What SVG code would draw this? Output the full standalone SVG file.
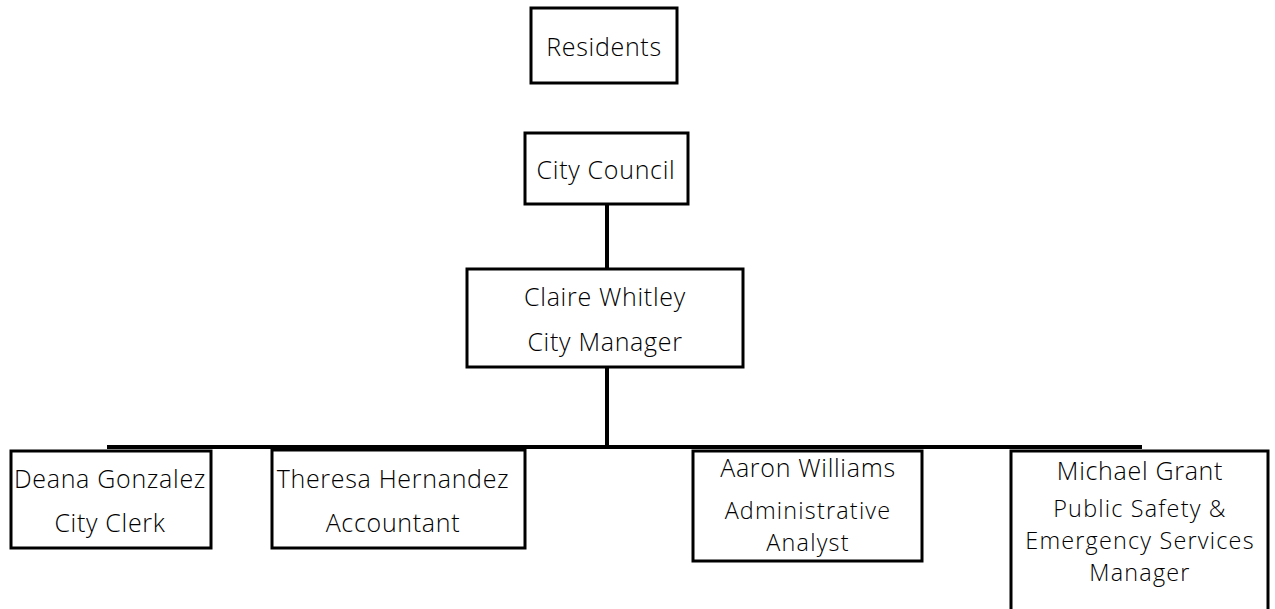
<svg xmlns="http://www.w3.org/2000/svg" width="1275" height="609" viewBox="0 0 1275 609">
<style>
.box{fill:#fff;stroke:#000;stroke-width:3}
.ln{stroke:#000;stroke-width:4;fill:none}
text{font-family:"Open Sans","Noto Sans",sans-serif;font-weight:300;font-size:25px;letter-spacing:0.7px;fill:#000;text-anchor:middle;dominant-baseline:central}
text.w{font-size:23.4px;letter-spacing:1.2px}
</style>
<rect width="1275" height="609" fill="#fff"/>
<g id="connectors">
<line class="ln" x1="607" y1="204" x2="607" y2="269"/>
<line class="ln" x1="607" y1="367" x2="607" y2="447"/>
<line class="ln" x1="107" y1="447" x2="1142" y2="447"/>
</g>
<g id="residents"><rect class="box" x="531" y="8" width="146" height="75"/><text x="604" y="46">Residents</text></g>
<g id="council"><rect class="box" x="525" y="133" width="163" height="71"/><text x="606" y="169">City Council</text></g>
<g id="manager"><rect class="box" x="467" y="269" width="276" height="98"/><text x="605" y="296">Claire Whitley</text><text x="605" y="341">City Manager</text></g>
<g id="clerk"><rect class="box" x="11" y="451" width="200" height="97"/><text x="110" y="478">Deana Gonzalez</text><text x="110" y="522">City Clerk</text></g>
<g id="accountant"><rect class="box" x="272" y="450" width="253" height="98"/><text x="393" y="478">Theresa Hernandez</text><text x="393" y="522">Accountant</text></g>
<g id="analyst"><rect class="box" x="693" y="451" width="229" height="110"/><text x="808" y="467">Aaron Williams</text><text class="w" x="808" y="510">Administrative</text><text class="w" x="808" y="542">Analyst</text></g>
<g id="safety"><rect class="box" x="1011" y="451" width="257" height="170"/><text x="1140" y="470">Michael Grant</text><text class="w" x="1140" y="508">Public Safety &amp;</text><text class="w" x="1140" y="540">Emergency Services</text><text class="w" x="1140" y="572">Manager</text></g>
</svg>
